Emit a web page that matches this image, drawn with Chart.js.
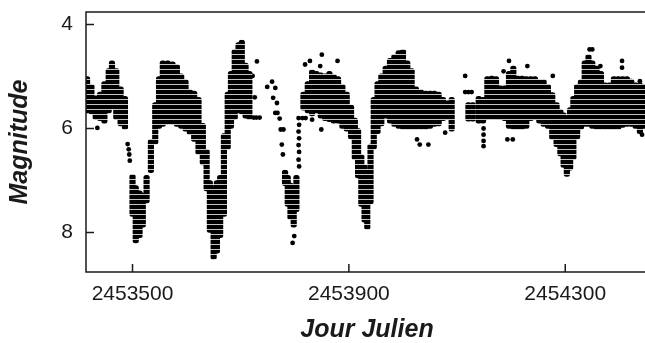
<!DOCTYPE html>
<html>
<head>
<meta charset="utf-8">
<script src="https://cdn.jsdelivr.net/npm/chart.js@4.4.1/dist/chart.umd.min.js"></script>
<style>
  html, body { margin: 0; padding: 0; background: #fff; overflow: hidden; }
  #box { width: 660px; height: 343px; }
</style>
</head>
<body>
<div id="box"><canvas id="courbe"></canvas></div>
<script>
"use strict";

// axes
const xTicks = [2453500, 2453900, 2454300];
const yTicks = [4, 6, 8];

// bandes denses : jour, magnitude la plus brillante, magnitude la plus faible
const bandDays = [
  2453416, 2453424, 2453432, 2453440, 2453448, 2453456, 2453462, 2453470, 2453478, 2453486,
  2453500, 2453506, 2453513, 2453519, 2453526, 2453534, 2453542, 2453549, 2453556, 2453565,
  2453574, 2453582, 2453590, 2453598, 2453606, 2453614, 2453622, 2453630, 2453637, 2453643,
  2453650, 2453656, 2453662, 2453669, 2453676, 2453682, 2453689, 2453696, 2453702, 2453709,
  2453716,
  2453782, 2453787, 2453792, 2453798, 2453803,
  2453816, 2453824, 2453832, 2453840, 2453848, 2453856, 2453864, 2453872, 2453880, 2453888,
  2453896, 2453904, 2453911, 2453917, 2453923, 2453929, 2453934, 2453940, 2453946, 2453953,
  2453960, 2453968, 2453976, 2453984, 2453992, 2454000, 2454008, 2454016, 2454024, 2454033,
  2454042, 2454050, 2454058, 2454066, 2454074, 2454082, 2454090,
  2454121, 2454129, 2454140, 2454148, 2454156, 2454164, 2454172, 2454180, 2454188, 2454196,
  2454204, 2454212, 2454220, 2454228, 2454236, 2454244, 2454252, 2454260, 2454268, 2454276,
  2454284, 2454291, 2454297, 2454303, 2454309, 2454315, 2454322, 2454329, 2454336, 2454343,
  2454350, 2454358, 2454366, 2454374, 2454382, 2454390, 2454398, 2454406, 2454414, 2454422,
  2454430, 2454438, 2454446
];
const bandBright = [
  5.0, 5.15, 5.37, 5.3, 5.1, 4.85, 4.7, 4.85, 5.2, 5.38,
  6.88, 7.1, 7.2, 7.24, 6.9, 6.21, 5.5, 5.0, 4.7, 4.7,
  4.72, 4.77, 4.95, 5.06, 5.25, 5.28, 5.4, 5.9, 6.4, 7.0,
  7.1, 7.0, 6.9, 6.1, 5.3, 4.9, 4.48, 4.35, 4.3, 4.74,
  4.9,
  6.8, 6.9, 7.05, 7.1, 6.9,
  5.3, 5.1, 4.87, 4.9, 4.93, 4.95, 4.9, 4.96, 5.0, 5.15,
  5.3, 5.55, 5.8, 6.0, 6.5, 6.7, 6.8, 6.3, 5.4, 5.1,
  4.95, 4.8, 4.65, 4.58, 4.5, 4.48, 4.7, 4.85, 5.2, 5.25,
  5.28, 5.28, 5.28, 5.3, 5.4, 5.47, 5.4,
  5.5, 5.5, 5.38, 5.4, 5.0, 4.99, 5.0, 5.18, 5.18, 4.9,
  4.8, 4.99, 4.99, 5.0, 5.0, 5.0, 5.06, 5.06, 5.15, 5.31,
  5.5, 5.63, 5.7, 5.76, 5.6, 5.38, 5.15, 5.06, 4.7, 4.58,
  4.7, 4.8, 4.9, 5.12, 5.12, 5.0, 5.0, 5.0, 5.0, 5.05,
  5.12, 5.12, 5.15
];
const bandFaint = [
  5.7, 5.72, 5.83, 5.85, 5.9, 5.7, 5.63, 5.83, 5.95, 6.02,
  7.69, 8.2, 8.1, 7.9, 7.43, 6.85, 6.3, 6.0, 5.96, 5.92,
  5.92, 5.96, 6.0, 6.05, 6.12, 6.25, 6.5, 6.7, 7.2, 8.0,
  8.52, 8.4, 8.1, 7.69, 6.4, 6.0, 5.83, 5.7, 5.72, 5.8,
  5.83,
  7.1, 7.5, 7.75, 7.9, 7.6,
  5.65, 5.7, 5.76, 5.7, 5.8, 5.85, 5.87, 5.9, 5.9, 6.0,
  6.05, 6.2, 6.6, 6.95, 7.5, 7.8, 7.94, 7.45, 6.4, 6.1,
  5.95, 5.8, 5.9, 5.96, 6.0, 6.02, 6.02, 6.02, 6.02, 6.02,
  6.02, 6.0, 5.96, 5.95, 5.85, 5.83, 6.05,
  5.86, 5.86, 5.9, 5.9, 5.83, 5.83, 5.83, 5.83, 5.85, 6.0,
  6.02, 6.02, 6.02, 6.0, 5.85, 5.83, 5.9, 5.96, 6.0, 6.21,
  6.35, 6.53, 6.75, 6.92, 6.8, 6.6, 6.2, 6.02, 5.96, 5.96,
  6.0, 6.02, 6.02, 6.02, 6.02, 6.02, 6.02, 5.98, 5.96, 5.96,
  6.0, 6.1, 6.0
];

// observations isolees
const pointDays = [
  2453435, 2453491, 2453493, 2453494, 2453495,
  2453722, 2453730, 2453724, 2453729, 2453735, 2453726,
  2453749, 2453758, 2453760, 2453764, 2453764, 2453767, 2453768, 2453772, 2453774, 2453779, 2453776, 2453778,
  2453796, 2453799,
  2453807, 2453808, 2453807, 2453808, 2453807, 2453808, 2453807, 2453808, 2453814, 2453820,
  2453819, 2453828, 2453850, 2453847, 2453879, 2453849, 2453832,
  2454026, 2454031, 2454047, 2454078,
  2454115, 2454115, 2454121, 2454127,
  2454149, 2454149, 2454149, 2454149,
  2454196, 2454186, 2454193, 2454203, 2454230, 2454277, 2454345, 2454350, 2454365, 2454405, 2454405, 2454438, 2454442
];
const pointMags = [
  5.99, 6.3, 6.4, 6.5, 6.62,
  4.99, 4.71, 5.79, 5.79, 5.79, 5.4,
  5.2, 5.1, 5.41, 5.22, 5.7, 5.51, 5.7, 5.81, 6.02, 6.02, 6.31, 6.5,
  8.2, 8.07,
  5.8, 5.93, 6.06, 6.19, 6.32, 6.45, 6.6, 6.73, 5.8, 5.8,
  4.77, 4.7, 4.58, 4.8, 4.7, 6.02, 5.83,
  6.21, 6.31, 6.31, 6.08,
  4.99, 5.3, 5.3, 5.3,
  6.0, 6.12, 6.24, 6.34,
  4.7, 4.9, 6.21, 6.21, 4.8, 4.99, 4.48, 4.48, 4.8, 4.7, 4.83, 5.09, 6.12
];

const ink = "#1a1a1a";
const police = "'Liberation Sans', Arial, sans-serif";

// rangées de points : motif a bandes horizontales
const motif = document.createElement("canvas");
motif.width = 4;
motif.height = 5;
const mctx = motif.getContext("2d");
mctx.fillStyle = "#000";
mctx.fillRect(0, 0, 4, 4);
mctx.fillStyle = "#c4c4c4";
mctx.fillRect(0, 4, 4, 1);
const remplissage = mctx.createPattern(motif, "repeat");

// cadre complet + graduations vers l'interieur
const cadre = {
  id: "cadre",
  afterDraw(c) {
    const ctx = c.ctx, a = c.chartArea;
    ctx.save();
    ctx.strokeStyle = ink;
    ctx.lineWidth = 1.5;
    ctx.strokeRect(a.left, a.top, a.right - a.left, a.bottom - a.top);
    ctx.beginPath();
    xTicks.forEach(v => {
      const px = c.scales.x.getPixelForValue(v);
      ctx.moveTo(px, a.bottom);
      ctx.lineTo(px, a.bottom - 8);
    });
    yTicks.forEach(v => {
      const py = c.scales.y.getPixelForValue(v);
      ctx.moveTo(a.left, py);
      ctx.lineTo(a.left + 8, py);
    });
    ctx.stroke();
    ctx.restore();
  }
};

const ctx = document.getElementById("courbe");
new Chart(ctx, {
  type: "bar",
  data: {
    datasets: [{
      type: "bar",
      data: bandDays.map((d, i) => ({ x: d, y: [bandBright[i], bandFaint[i]] })),
      backgroundColor: remplissage,
      borderWidth: 0,
      borderRadius: 2.5,
      borderSkipped: false,
      barThickness: 5.5
    }, {
      type: "scatter",
      data: pointDays.map((d, i) => ({ x: d, y: pointMags[i] })),
      backgroundColor: "#000",
      borderWidth: 0,
      pointRadius: 2.4
    }]
  },
  options: {
    animation: false,
    responsive: true,
    maintainAspectRatio: false,
    devicePixelRatio: 1,
    layout: { padding: { top: 12, right: 12, left: 0, bottom: 0 } },
    plugins: { legend: { display: false }, tooltip: { enabled: false } },
    scales: {
      x: {
        type: "linear",
        min: 2453414,
        max: 2454453,
        offset: false,
        grid: { display: false, drawTicks: false, offset: false },
        border: { display: false },
        afterBuildTicks: s => { s.ticks = xTicks.map(v => ({ value: v })); },
        afterFit: s => { s.height = 71; s.paddingLeft = 0; s.paddingRight = 0; },
        ticks: {
          color: ink,
          padding: 10,
          maxRotation: 0,
          font: { family: police, size: 21 },
          callback: v => String(v)
        },
        title: {
          display: true,
          text: "Jour Julien",
          color: ink,
          padding: { top: 0, bottom: 0 },
          font: { family: police, size: 25, weight: "bold", style: "italic", lineHeight: 1 }
        }
      },
      y: {
        reverse: true,
        min: 3.76,
        max: 8.76,
        grid: { display: false, drawTicks: false },
        border: { display: false },
        afterBuildTicks: s => { s.ticks = yTicks.map(v => ({ value: v })); },
        afterFit: s => { s.width = 86; s.paddingTop = 0; s.paddingBottom = 0; },
        ticks: {
          color: ink,
          padding: 13,
          font: { family: police, size: 21 },
          callback: v => String(v)
        },
        title: {
          display: true,
          text: "Magnitude",
          color: ink,
          padding: { top: 7.5, bottom: 0 },
          font: { family: police, size: 25, weight: "bold", style: "italic", lineHeight: 1 }
        }
      }
    }
  },
  plugins: [cadre]
});
</script>
</body>
</html>
